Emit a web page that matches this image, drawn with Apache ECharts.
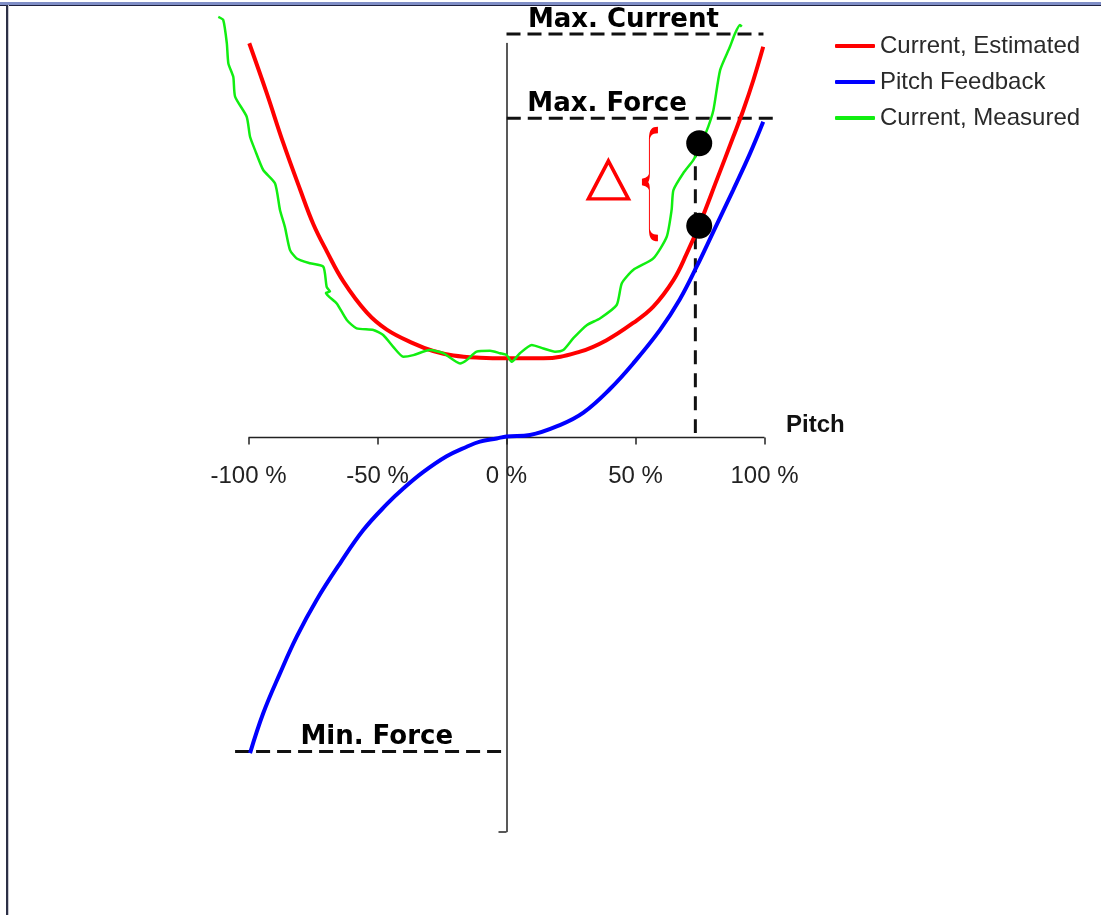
<!DOCTYPE html>
<html>
<head>
<meta charset="utf-8">
<script src="https://cdn.jsdelivr.net/npm/echarts@6/dist/echarts.min.js"></script>
<style>
html,body{margin:0;padding:0;background:#fff;}
#chart{position:absolute;left:0;top:0;width:1101px;height:915px;}
#bt{position:absolute;left:0;top:2px;width:1101px;height:3px;background:#7f8ec6;border-bottom:1px solid #1d2040;pointer-events:none;}
#bl{position:absolute;left:6px;top:5px;width:2px;height:910px;background:#2c3046;border-right:1px solid #c8c8d0;pointer-events:none;}
</style>
</head>
<body>
<div id="chart"></div>
<div id="bt"></div>
<div id="bl"></div>
<script>
// ---- data (x: pitch %, y: normalized force/current units) ----
const estX = [-99.7,-92.9,-86.5,-80.0,-74.9,-69.7,-63.3,-54.2,-46.4,-36.1,-28.4,-20.6,-10.3,0,14.3,28.5,38.8,49.1,56.9,64.7,69.8,75.0,81.5,87.9,91.8,95.7,99.5];
const estY = [123.5,107.8,92.2,77.7,66.9,58.4,49.0,39.2,33.8,29.5,27.1,25.7,25.0,24.8,24.8,26.9,30.5,35.9,41.0,49.3,57.5,67.1,80.7,94.2,102.6,112.0,122.4];

const fbX = [-99.4,-94.3,-87.8,-81.3,-73.6,-64.5,-55.5,-46.4,-40.0,-32.2,-23.2,-15.4,-10.3,-3.8,0,9.1,20.7,29.8,40.1,49.1,59.5,67.2,73.7,80.2,87.9,94.4,99.5];
const fbY = [-98.9,-86.4,-73.9,-62.4,-50.9,-39.4,-29.0,-20.9,-16.0,-10.8,-5.9,-2.9,-1.3,-0.3,0.3,0.8,3.9,7.8,15.2,23.2,33.7,43.3,53.5,64.5,77.6,89.0,98.9];

const measX = [-111.7,-109.8,-108.4,-107.8,-105.9,-105.2,-100.7,-99.4,-97.5,-94.3,-89.7,-87.8,-85.9,-83.9,-81.3,-76.2,-71.0,-69.7,-68.4,-70.0,-65.8,-61.9,-58.1,-51.6,-47.8,-43.9,-40.0,-36.1,-29.7,-24.5,-18.0,-15.4,-11.6,-6.4,-2.5,0.1,2.0,5.2,9.8,14.3,18.8,22.0,25.9,31.1,36.2,42.7,44.7,49.1,56.9,62.1,64.0,64.7,68.5,72.4,75.0,78.2,80.2,82.8,86.6,88.6,90.5,91.2];
const measY = [131.8,130.8,123.5,117.2,113.0,106.8,100.5,94.2,90.1,83.8,79.6,71.3,66.0,58.7,56.1,54.6,53.5,47.2,45.7,45.3,42.0,36.8,34.2,33.7,32.1,28.4,25.3,25.8,27.4,26.4,23.2,24.3,26.9,27.2,26.4,25.8,23.7,26.4,29.0,27.9,26.9,27.4,31.1,35.2,37.3,41.5,48.3,52.5,56.1,62.9,71.3,77.5,82.8,86.9,91.1,97.4,102.6,115.1,122.4,126.6,129.2,128.7];

// axis baseline and tick positions
const pitchAxisX = [-100, 100], pitchAxisY = [0, 0];
const pitchTicks = [-100, -50, 0, 50, 100];

// reference levels
const maxCurrentX = [0, 99.6],   maxCurrentY = [126.4, 126.4];
const maxForceX   = [0.1, 104.1], maxForceY  = [100, 100];
const minForceX   = [-105.2, -1.9], minForceY = [-98.4, -98.4];
const markerX = [73.2, 73.2], markerY = [92.2, 1.4];

// highlighted points (measured vs estimated at marker pitch)
const dotX = [74.7, 74.7], dotY = [92.2, 66.3];

// annotation texts
const labelNames = ['Max. Current', 'Max. Force', 'Min. Force'];
const labelX = [45.3, 39.0, -50.3];
const labelY = [126.4, 100, -98.4];
const deltaPos = [39.5, 80.7];
const bracePos = [55.6, 79.4];

const legendNames = ['Current, Estimated', 'Pitch Feedback', 'Current, Measured'];

const zip = (a, b) => a.map((v, i) => [v, b[i]]);

const chart = echarts.init(document.getElementById('chart'), null, {renderer: 'canvas'});
const dashStyle = {color: '#111', width: 3, type: [14, 7]};
const bracePath = 'path://M16,1 C10,1 8,4 8,10 L8,44 C8,49 6,51 1,52 C6,53 8,55 8,60 L8,98 C8,104 10,107 16,107';

chart.setOption({
  animation: false,
  backgroundColor: '#fff',
  grid: {left: 196.9, right: 284.9, top: 43.6, bottom: 83.6, containLabel: false, outerBoundsMode: 'none'},
  legend: {
    data: legendNames,
    orient: 'vertical',
    left: 830, top: 29,
    itemWidth: 40, itemHeight: 4, itemGap: 12,
    icon: 'roundRect',
    textStyle: {fontSize: 24, fontFamily: 'Liberation Sans', color: '#2a2a2a', lineHeight: 24}
  },
  xAxis: {
    type: 'value', min: -120, max: 120,
    offset: -393.9,
    name: 'Pitch', nameLocation: 'end', nameGap: -30,
    nameTextStyle: {fontSize: 24, fontWeight: 'bold', fontFamily: 'Liberation Sans', color: '#111', align: 'left', verticalAlign: 'bottom', lineHeight: 24},
    axisLine: {show: false, onZero: false},
    axisTick: {show: true, length: 7, customValues: pitchTicks, lineStyle: {color: '#222', width: 1.5}},
    axisLabel: {customValues: pitchTicks, formatter: '{value} %', fontSize: 24, fontFamily: 'Liberation Sans', color: '#222', margin: 27},
    splitLine: {show: false}
  },
  yAxis: {
    type: 'value', min: -123.4, max: 123.4,
    axisLine: {show: true, onZero: true, lineStyle: {color: '#222', width: 1.5}},
    axisTick: {show: true, length: 8, customValues: [-123.4], lineStyle: {color: '#222', width: 1.5}},
    axisLabel: {show: false},
    splitLine: {show: false}
  },
  series: [
    {type: 'line', name: 'pitchAxis', data: zip(pitchAxisX, pitchAxisY), symbol: 'none', clip: false, lineStyle: {color: '#222', width: 1.5}, silent: true, z: 1},
    {type: 'line', name: 'maxCurrent', data: zip(maxCurrentX, maxCurrentY), symbol: 'none', clip: false, lineStyle: dashStyle, silent: true, z: 1},
    {type: 'line', name: 'maxForce', data: zip(maxForceX, maxForceY), symbol: 'none', clip: false, lineStyle: dashStyle, silent: true, z: 1},
    {type: 'line', name: 'minForce', data: zip(minForceX, minForceY), symbol: 'none', clip: false, lineStyle: dashStyle, silent: true, z: 1},
    {type: 'line', name: 'marker', data: zip(markerX, markerY), symbol: 'none', clip: false, lineStyle: {color: '#111', width: 3, type: [14, 9]}, silent: true, z: 1},
    {type: 'line', name: legendNames[0], data: zip(estX, estY), symbol: 'none', smooth: 0.4, clip: false, color: '#ff0000', lineStyle: {color: '#ff0000', width: 4}, z: 3},
    {type: 'line', name: legendNames[1], data: zip(fbX, fbY), symbol: 'none', smooth: 0.4, clip: false, color: '#0000ff', lineStyle: {color: '#0000ff', width: 4}, z: 3},
    {type: 'line', name: legendNames[2], data: zip(measX, measY), symbol: 'none', smooth: 0.2, clip: false, color: '#11ee11', lineStyle: {color: '#11ee11', width: 2.5}, z: 4},
    {type: 'scatter', name: 'dots', data: zip(dotX, dotY), symbolSize: 26, clip: false, itemStyle: {color: '#000', opacity: 1}, silent: true, z: 5},
    {type: 'scatter', name: 'delta', data: [deltaPos], symbol: 'triangle', symbolSize: [40, 38], clip: false,
      itemStyle: {color: 'rgba(0,0,0,0)', borderColor: '#ff0000', borderWidth: 3.5, opacity: 1}, silent: true, z: 5},
    {type: 'scatter', name: 'brace', data: [bracePos], symbol: bracePath, symbolSize: [16, 108], clip: false,
      itemStyle: {color: 'rgba(0,0,0,0)', borderColor: '#ff0000', borderWidth: 2.5, opacity: 1}, silent: true, z: 5},
    {type: 'scatter', name: 'labels', data: labelNames.map((n, i) => ({name: n, value: [labelX[i], labelY[i]]})),
      symbolSize: 0, clip: false, silent: true, z: 6, itemStyle: {opacity: 1},
      label: {show: true, position: 'top', distance: 1, formatter: p => p.name,
        fontSize: 26, fontWeight: 'bold', fontFamily: 'DejaVu Sans', color: '#000'}}
  ]
});
</script>
</body>
</html>
